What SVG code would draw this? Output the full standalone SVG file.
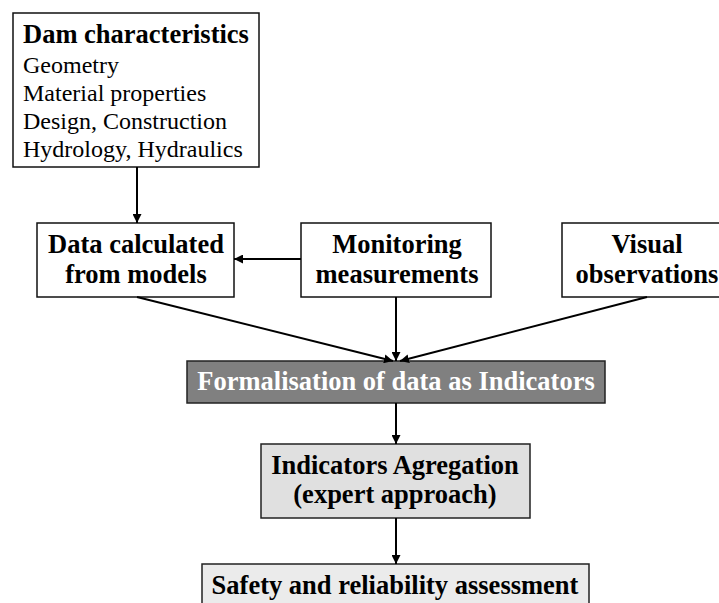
<svg xmlns="http://www.w3.org/2000/svg" width="719" height="603" viewBox="0 0 719 603" font-family="'Liberation Serif', Tinos, 'Times New Roman', Times, serif">
<style>
.box{stroke:#111;stroke-width:1.5;fill:#fff}
text{font-family:'Liberation Serif', Tinos, 'Times New Roman', Times, serif;fill:#000}
.b{font-weight:bold;font-size:26.5px;text-anchor:middle}
.r{font-size:24px}
.conn{stroke:#000;stroke-width:2;fill:none;marker-end:url(#ah)}
</style>
<defs>
<marker id="ah" markerUnits="userSpaceOnUse" markerWidth="10" markerHeight="9" refX="9" refY="4.5" orient="auto">
<path d="M0,0 L9,4.5 L0,9 z" fill="#000"/>
</marker>
</defs>
<rect width="719" height="603" fill="#fff"/>
<g id="dam">
<rect class="box" x="13" y="13" width="246" height="154"/>
<text x="23" y="43" font-size="26.5" font-weight="bold">Dam characteristics</text>
<text class="r" x="23" y="73">Geometry</text>
<text class="r" x="23" y="101">Material properties</text>
<text class="r" x="23" y="129">Design, Construction</text>
<text class="r" x="23" y="157">Hydrology, Hydraulics</text>
</g>
<g id="data-calc">
<rect class="box" x="37" y="223" width="197" height="74"/>
<text class="b" x="136" y="253">Data calculated</text>
<text class="b" x="136" y="283">from models</text>
</g>
<g id="monitoring">
<rect class="box" x="301" y="223" width="190" height="74"/>
<text class="b" x="397" y="253">Monitoring</text>
<text class="b" x="397" y="283">measurements</text>
</g>
<g id="visual">
<rect class="box" x="562" y="223" width="170" height="74"/>
<text class="b" x="647" y="253">Visual</text>
<text class="b" x="647" y="283">observations</text>
</g>
<g id="formalisation">
<rect x="187" y="361" width="418" height="42" fill="#808080" stroke="#222" stroke-width="1.5"/>
<text class="b" x="396" y="390" style="fill:#fff">Formalisation of data as Indicators</text>
</g>
<g id="aggregation">
<rect x="261" y="444" width="269" height="74" fill="#e0e0e0" stroke="#222" stroke-width="1.5"/>
<text class="b" x="395" y="474">Indicators Agregation</text>
<text class="b" x="395" y="503">(expert approach)</text>
</g>
<g id="safety">
<rect x="202" y="564" width="387" height="50" fill="#ebebeb" stroke="#222" stroke-width="1.5"/>
<text class="b" x="395" y="594">Safety and reliability assessment</text>
</g>
<g id="connectors">
<line class="conn" x1="137" y1="167" x2="137" y2="223"/>
<line class="conn" x1="301" y1="259" x2="234" y2="259"/>
<line class="conn" x1="137" y1="297" x2="393" y2="361"/>
<line class="conn" x1="396" y1="297" x2="396" y2="361"/>
<line class="conn" x1="647" y1="297" x2="400" y2="361"/>
<line class="conn" x1="396" y1="403" x2="396" y2="444"/>
<line class="conn" x1="396" y1="518" x2="396" y2="564"/>
</g>
</svg>
